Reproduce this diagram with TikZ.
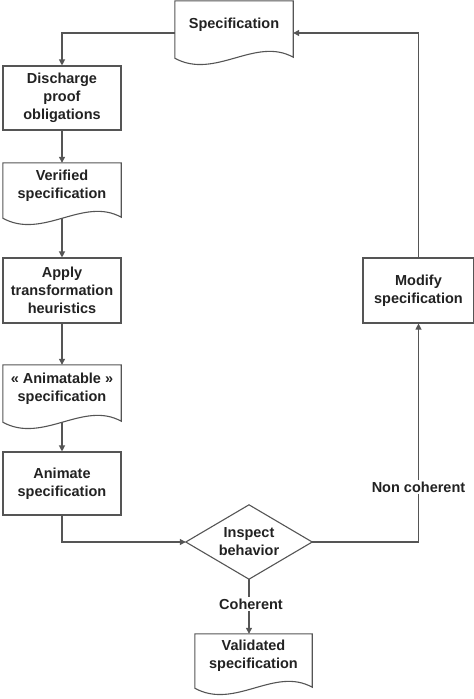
\documentclass[tikz,border=0pt]{standalone}
\usepackage{fontspec}
\setmainfont{Liberation Sans}
\usetikzlibrary{arrows.meta,calc}
\definecolor{linec}{HTML}{555555}
\definecolor{txtc}{HTML}{222222}
\begin{document}
\begin{tikzpicture}[x=1pt,y=-1pt,
  every node/.style={font=\fontsize{14.5}{18}\selectfont\bfseries, text=txtc, align=center, inner sep=0pt},
  box/.style={draw=linec, line width=1.1pt, minimum width=118pt, minimum height=#1},
  docnode/.style={minimum width=#1, minimum height=46pt},
  docline/.style={draw=linec, line width=1.1pt},
  dnode/.style={minimum width=126pt, minimum height=74pt},
  conn/.style={draw=linec, line width=1.1pt, -{Triangle[length=6pt,width=6pt]}},
  plain/.style={draw=linec, line width=1.1pt},
  lbl/.style={fill=white, inner sep=1.5pt}
]
\useasboundingbox (0,0) rectangle (474,699);

% nodes
\node[docnode=118pt, minimum height=47pt] (spec) at (234,24.5) {Specification};
\node[box=64pt] (disc) at (62,98) {Discharge\\proof\\obligations};
\node[docnode=118pt, minimum height=45pt] (verif) at (62,185.5) {Verified\\specification};
\node[box=65pt] (apply) at (62,290.5) {Apply\\transformation\\heuristics};
\node[docnode=118pt, minimum height=47pt] (anim) at (62,388.5) {« Animatable »\\specification};
\node[box=63pt] (animate) at (62,483.5) {Animate\\specification};
\node[dnode] (insp) at (249,542) {Inspect\\behavior};
\node[docnode=117pt, minimum height=44pt] (valid) at (253.5,656) {Validated\\specification};
\node[box=65pt, minimum width=111pt] (modify) at (418.5,290.5) {Modify\\specification};

% document outlines
\foreach \n in {spec,verif,anim,valid}{
  \draw[docline] ($(\n.south west)+(0,10)$) -- (\n.north west) -- (\n.north east) -- ($(\n.south east)+(0,9)$)
    .. controls +(-38,-21) and +(40,22) .. ($(\n.south west)+(0,10)$) -- cycle;
}
% diamond outline
\draw[plain] (insp.west) -- (insp.north) -- (insp.east) -- (insp.south) -- cycle;

% connectors
\coordinate (specL) at ($(spec.west)+(0,8.5)$);
\coordinate (specR) at ($(spec.east)+(0,8.5)$);
\draw[conn] (specL) -| (disc.north);
\draw[conn] (disc.south) -- (verif.north);
\draw[conn] ($(verif.south)+(0,10)$) -- (apply.north);
\draw[conn] (apply.south) -- (anim.north);
\draw[conn] ($(anim.south)+(0,10)$) -- (animate.north);
\draw[conn] (animate.south) |- (insp.west);
\draw[conn] (insp.east) -| (modify.south);
\draw[conn] (modify.north) |- (specR);
\draw[conn] (insp.south) -- (insp.south |- valid.north);

% labels
\node[lbl] (nc) at (418.5,487) {Non coherent};
\node[lbl] (coh) at (251,604) {Coherent};
\end{tikzpicture}
\end{document}
